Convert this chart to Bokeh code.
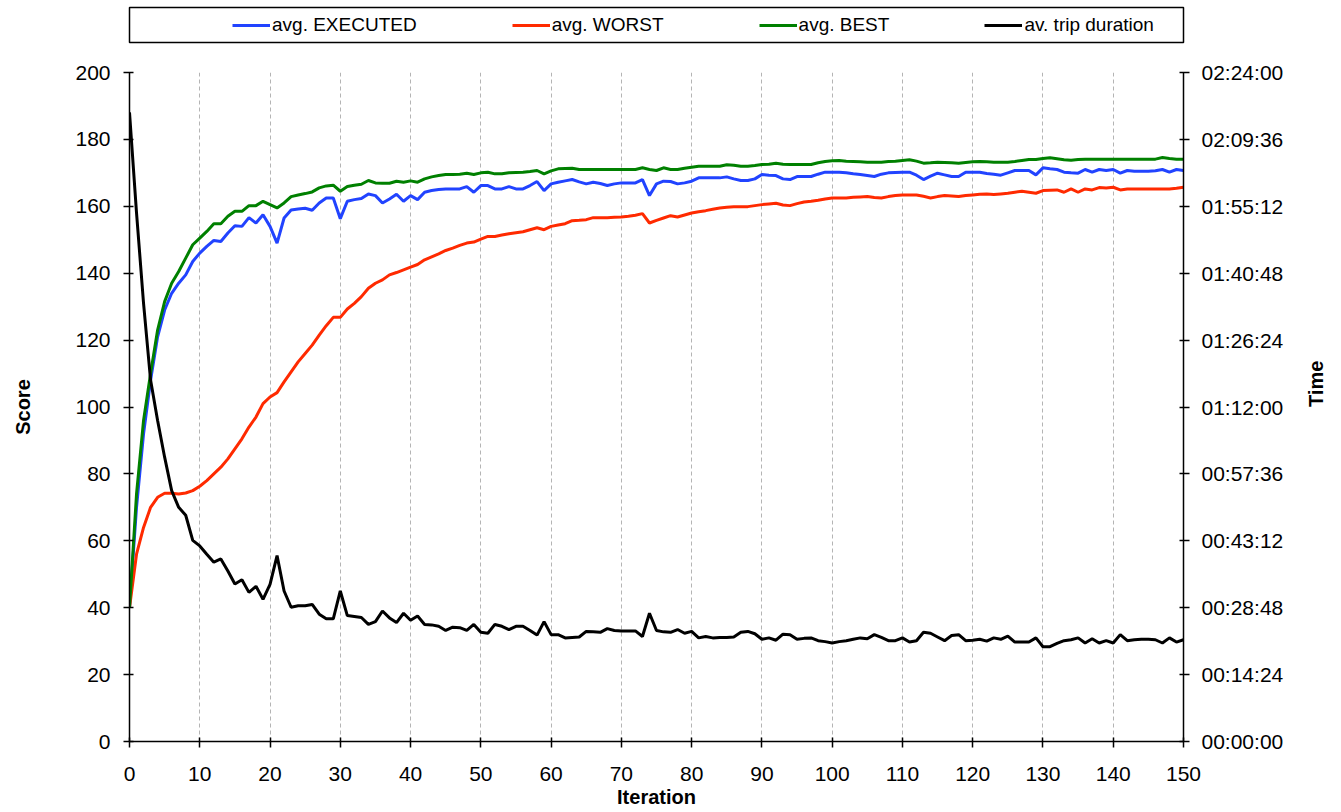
import math
from bokeh.plotting import figure
from bokeh.layouts import column
from bokeh.models import (Range1d, LinearAxis, FixedTicker, CustomJSTickFormatter,
                          Legend, LegendItem)
from bokeh.embed import file_html
from bokeh.resources import INLINE

iterations = list(range(151))

executed = [
    40, 70, 92, 108, 121, 129, 134, 137, 139.5, 143.5,
    146, 148, 149.8, 149.5, 152, 154.2, 154, 156.6, 155, 157.5,
    154, 149, 156.5, 158.9, 159.2, 159.4, 158.8, 161, 162.5, 162.5,
    156.3, 161.5, 162, 162.3, 163.7, 163.2, 161, 162.2, 163.6, 161.5,
    163.2, 162, 164.2, 164.7, 165, 165.2, 165.2, 165.2, 165.9, 164.2,
    166.2, 166.2, 165.2, 165.2, 165.9, 165.2, 165.2, 166.2, 167.4, 164.7,
    166.7, 167.2, 167.6, 168, 167.3, 166.7, 167.2, 166.8, 166.2, 166.7,
    167, 167, 167, 168, 163.2, 166.7, 167.5, 167.4, 166.7, 167,
    167.5, 168.5, 168.5, 168.5, 168.5, 168.8, 168.2, 167.7, 167.7, 168.2,
    169.5, 169.3, 169.2, 168.2, 168, 168.9, 168.9, 168.9, 169.6, 170.2,
    170.2, 170.2, 170, 169.7, 169.5, 169.2, 168.9, 169.6, 170, 170.1,
    170.2, 170.2, 169.3, 168, 169, 169.9, 169.4, 168.9, 168.9, 170.2,
    170.2, 170.2, 169.8, 169.6, 169.3, 170, 170.7, 170.7, 170.7, 169.4,
    171.5, 171.2, 171, 170.2, 170, 169.9, 171, 170.2, 171, 170.7,
    171, 169.9, 170.7, 170.5, 170.5, 170.5, 170.6, 171, 170.2, 171,
    170.7,
]

worst = [
    40, 56, 64, 70, 73, 74.2, 74.2, 74, 74.3, 75,
    76.3, 78, 80, 82, 84.5, 87.5, 90.5, 94, 97, 101,
    103, 104.3, 107.5, 110.5, 113.5, 116, 118.5, 121.5, 124.3, 126.8,
    126.8, 129.3, 131, 133, 135.5, 137, 138, 139.5, 140.2, 141,
    141.8, 142.6, 144, 144.9, 145.8, 146.8, 147.5, 148.3, 149, 149.3,
    150.2, 151, 151, 151.4, 151.8, 152.1, 152.4, 153, 153.6, 153,
    154, 154.4, 154.8, 155.7, 155.8, 156, 156.6, 156.6, 156.6, 156.7,
    156.8, 157, 157.3, 157.8, 155, 155.8, 156.5, 157.2, 156.8, 157.4,
    158, 158.4, 158.7, 159.1, 159.5, 159.7, 159.9, 159.9, 159.9, 160.2,
    160.5, 160.7, 160.9, 160.4, 160.2, 160.8, 161.3, 161.5, 161.8, 162.2,
    162.5, 162.5, 162.5, 162.7, 162.8, 162.9, 162.6, 162.5, 162.9, 163.2,
    163.4, 163.4, 163.4, 163, 162.5, 162.9, 163.2, 163.1, 162.9, 163.2,
    163.4, 163.6, 163.7, 163.5, 163.7, 163.9, 164.2, 164.5, 164.2, 163.9,
    164.7, 164.8, 164.9, 164.2, 165.2, 164.2, 165.2, 164.9, 165.6, 165.5,
    165.7, 164.9, 165.2, 165.2, 165.2, 165.2, 165.2, 165.2, 165.2, 165.4,
    165.7,
]

best = [
    40, 74, 96, 110, 123, 131.5, 137, 140.5, 144.5, 148.5,
    150.5, 152.5, 154.8, 154.8, 157, 158.5, 158.5, 160.2, 160.2, 161.5,
    160.5, 159.5, 161, 162.9, 163.4, 163.8, 164.3, 165.5, 166.1, 166.3,
    164.5, 165.9, 166.3, 166.6, 167.7, 167, 166.9, 166.9, 167.5, 167.2,
    167.6, 167.2, 168.2, 168.8, 169.2, 169.5, 169.5, 169.6, 169.9, 169.5,
    170, 170.2, 169.7, 169.7, 170, 170.1, 170.2, 170.4, 170.7, 169.7,
    170.6, 171.2, 171.3, 171.4, 171, 171, 171, 171, 171, 171,
    171, 171, 171, 171.5, 171, 170.7, 171.5, 171, 171, 171.4,
    171.7, 172, 172, 172, 172, 172.4, 172.3, 172, 172, 172.2,
    172.5, 172.6, 172.9, 172.6, 172.5, 172.5, 172.5, 172.5, 173, 173.4,
    173.6, 173.7, 173.5, 173.4, 173.3, 173.2, 173.2, 173.2, 173.4, 173.5,
    173.7, 173.9, 173.5, 172.9, 173, 173.2, 173.1, 173, 172.9, 173.1,
    173.3, 173.4, 173.3, 173.2, 173.2, 173.2, 173.4, 173.7, 174, 174,
    174.3, 174.5, 174.2, 173.9, 173.8, 174, 174.1, 174.1, 174.1, 174.1,
    174.1, 174.1, 174.1, 174.1, 174.1, 174.1, 174.1, 174.6, 174.3, 174.1,
    174.1,
]

# average trip duration, in minutes
trip_minutes = [
    135.4, 113.8, 94.3, 77.8, 69.1, 61.2, 54.0, 50.4, 48.7, 43.3,
    42.1, 40.3, 38.6, 39.3, 36.7, 33.9, 34.8, 32.1, 33.4, 30.6,
    33.8, 40.0, 32.4, 28.9, 29.2, 29.2, 29.5, 27.4, 26.4, 26.4,
    32.4, 27.1, 26.9, 26.7, 25.2, 25.8, 28.1, 26.6, 25.6, 27.6,
    26.1, 27.0, 25.2, 25.1, 24.8, 23.9, 24.6, 24.5, 23.9, 25.2,
    23.5, 23.3, 25.2, 24.8, 24.1, 24.8, 24.8, 23.9, 22.9, 25.8,
    23.0, 23.0, 22.3, 22.4, 22.5, 23.7, 23.6, 23.5, 24.3, 23.9,
    23.8, 23.8, 23.8, 22.6, 27.6, 23.9, 23.6, 23.5, 24.1, 23.3,
    23.7, 22.3, 22.6, 22.3, 22.4, 22.4, 22.5, 23.5, 23.7, 23.2,
    22.0, 22.3, 21.8, 23.1, 23.0, 22.0, 22.2, 22.3, 21.7, 21.5,
    21.2, 21.5, 21.7, 22.0, 22.3, 22.1, 23.0, 22.4, 21.7, 21.7,
    22.3, 21.4, 21.7, 23.5, 23.3, 22.5, 21.7, 22.8, 23.0, 21.7,
    21.8, 22.0, 21.6, 22.3, 22.0, 22.7, 21.4, 21.4, 21.4, 22.3,
    20.4, 20.4, 21.1, 21.7, 21.9, 22.3, 21.2, 22.1, 21.2, 21.7,
    21.2, 23.0, 21.7, 21.9, 22.0, 22.0, 21.9, 21.2, 22.3, 21.4,
    21.9,
]

series_labels = ["avg. EXECUTED", "avg. WORST", "avg. BEST", "av. trip duration"]
series_colors = ["#2143ff", "#ff2a00", "#008000", "black"]
series_first = [executed[0], worst[0], best[0], trip_minutes[0]]
iter_ticks = list(range(0, 151, 10))
score_ticks = list(range(0, 201, 20))
time_ticks = [0, 14.4, 28.8, 43.2, 57.6, 72, 86.4, 100.8, 115.2, 129.6, 144]

FONT = "Liberation Sans"
LW = 3

# ---------------- legend strip (its frame outline is the legend box) -------------
top = figure(width=1341, height=50, output_backend="svg", toolbar_location=None,
             x_range=Range1d(0, 1), y_range=Range1d(0, 1),
             x_axis_type=None, y_axis_type=None,
             min_border_left=129, min_border_right=157, min_border_top=7,
             min_border_bottom=8)
top.outline_line_color = "black"
top.outline_line_width = 1.5
top.background_fill_color = "white"
top.border_fill_color = "white"
top.xgrid.visible = False
top.ygrid.visible = False

# one-point key renderers (a single point draws no segment); they only feed the legend
key_renderers = [top.line([iterations[0]], [v], line_color=c, line_width=LW)
                 for v, c in zip(series_first, series_colors)]
legend = Legend(items=[LegendItem(label=lab, renderers=[r])
                       for lab, r in zip(series_labels, key_renderers)],
                orientation="horizontal", location=(103, 6), padding=0, margin=0,
                spacing=95, glyph_width=38, glyph_height=20, label_standoff=2,
                label_text_font=FONT, label_text_font_size="19px",
                label_text_color="black", border_line_color=None,
                background_fill_alpha=0)
top.add_layout(legend)

# ---------------- main chart ----------------
p = figure(width=1341, height=762, output_backend="svg", toolbar_location=None,
           x_range=Range1d(0, 150), y_range=Range1d(0, 200),
           min_border_left=129, min_border_right=157, min_border_top=22,
           min_border_bottom=71)
p.outline_line_color = None
p.background_fill_color = "white"
p.border_fill_color = "white"

p.extra_y_ranges = {"time": Range1d(0, 144)}
raxis = LinearAxis(y_range_name="time")
p.add_layout(raxis, "right")

p.xaxis.ticker = FixedTicker(ticks=iter_ticks)
p.yaxis[0].ticker = FixedTicker(ticks=score_ticks)
raxis.ticker = FixedTicker(ticks=time_ticks)
raxis.formatter = CustomJSTickFormatter(code="""
const s = Math.round(tick * 60);
const h = Math.floor(s / 3600), m = Math.floor((s % 3600) / 60), ss = s % 60;
const pad = (n) => String(n).padStart(2, '0');
return pad(h) + ':' + pad(m) + ':' + pad(ss);
""")

p.xaxis.axis_label = "Iteration"
p.yaxis[0].axis_label = "Score"
raxis.axis_label = "Time"
raxis.axis_label_orientation = math.pi / 2

for ax in [p.xaxis[0], p.yaxis[0], raxis]:
    ax.axis_line_color = "black"
    ax.axis_line_width = 1.5
    ax.major_tick_line_color = "black"
    ax.major_tick_line_width = 1.5
    ax.major_tick_out = 6
    ax.major_tick_in = 4
    ax.minor_tick_line_color = None
    ax.major_label_text_font = FONT
    ax.major_label_text_font_size = "21px"
    ax.major_label_text_color = "black"
    ax.axis_label_text_font = FONT
    ax.axis_label_text_font_size = "20px"
    ax.axis_label_text_font_style = "bold"
    ax.axis_label_text_color = "black"

p.xaxis.major_label_standoff = 19
p.xaxis.axis_label_standoff = 2
p.yaxis[0].major_label_standoff = 13
p.yaxis[0].axis_label_standoff = 38
raxis.major_label_standoff = 12
raxis.axis_label_standoff = 30

p.xgrid.ticker = FixedTicker(ticks=iter_ticks)
p.xgrid.grid_line_color = "#b4b4b4"
p.xgrid.grid_line_dash = "4 3"
p.xgrid.grid_line_width = 1
p.ygrid.grid_line_color = None

p.line(iterations, executed, line_color=series_colors[0], line_width=LW)
p.line(iterations, worst, line_color=series_colors[1], line_width=LW)
p.line(iterations, best, line_color=series_colors[2], line_width=LW)
p.line(iterations, trip_minutes, line_color=series_colors[3], line_width=LW,
       y_range_name="time")

layout = column(top, p, spacing=0)
open("out.html", "w").write(file_html(layout, INLINE))
